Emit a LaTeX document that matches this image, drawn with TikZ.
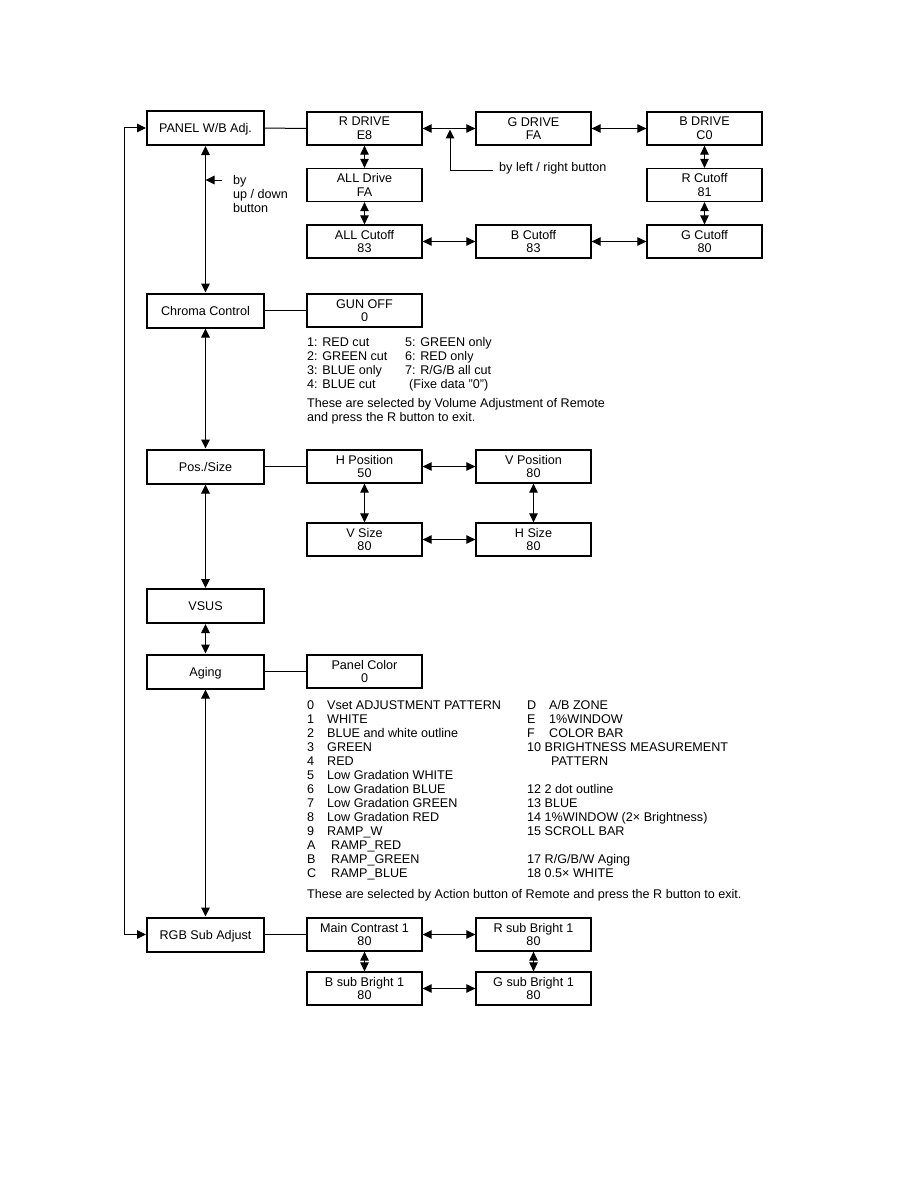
\documentclass[tikz,border=0pt]{standalone}
\usepackage{fontspec}
\setmainfont{Liberation Sans}
\usetikzlibrary{arrows.meta}
\begin{document}
\begin{tikzpicture}[x=1pt,y=-1pt,
  every node/.style={font=\fontsize{12.6}{13.6}\selectfont},
  mainbox/.style={draw, line width=2pt, minimum width=117pt, minimum height=34pt, inner sep=0pt, text height=9pt, text depth=0pt},
  subbox/.style={draw, line width=1.3pt, minimum width=115pt, minimum height=33pt, align=center, inner sep=0pt},
  link/.style={line width=1pt},
  tip/.style={-{Triangle[length=9pt,width=8.5pt]}},
  dbl/.style={line width=1pt, {Triangle[length=9pt,width=8.5pt]}-{Triangle[length=9pt,width=8.5pt]}},
  txt/.style={anchor=base west, inner sep=0pt}]
\useasboundingbox (0,0) rectangle (918,1188);

% left column
\node[mainbox] (panel)  at (205.5,128) {PANEL W/B Adj.};
\node[mainbox] (chroma) at (205.5,310.5) {Chroma Control};
\node[mainbox] (pos)    at (205.5,466.5) {Pos./Size};
\node[mainbox] (vsus)   at (205.5,606) {VSUS};
\node[mainbox] (aging)  at (205.5,671.5) {Aging};
\node[mainbox] (rgb)    at (205.5,934.5) {RGB Sub Adjust};

\draw[dbl] (panel) -- (chroma);
\draw[dbl] (chroma) -- (pos);
\draw[dbl] (pos) -- (vsus);
\draw[dbl] (vsus) -- (aging);
\draw[dbl] (aging) -- (rgb);
\draw[dbl] (panel.west) -- ++(-22,0) |- (rgb.west);

\coordinate (ud) at (222,180);
\coordinate (udt) at (205.5,180);
\draw[link,tip] (ud) -- (udt);
\node[txt] (by1) at (233,184.5) {by};
\node[txt] (by2) at (233,198.5) {up / down};
\node[txt] (by3) at (233,212.5) {button};

% PANEL W/B group
\node[subbox] (rdrive) at (364.5,128.5) {R DRIVE\\E8};
\node[subbox] (gdrive) at (533.5,128.5) {G DRIVE\\FA};
\node[subbox] (bdrive) at (704.5,128.5) {B DRIVE\\C0};
\node[subbox] (alldrive) at (364.5,185) {ALL Drive\\FA};
\node[subbox] (rcut) at (704.5,185) {R Cutoff\\81};
\node[subbox] (allcut) at (364.5,241.5) {ALL Cutoff\\83};
\node[subbox] (bcut) at (533.5,241.5) {B Cutoff\\83};
\node[subbox] (gcut) at (704.5,241.5) {G Cutoff\\80};

\draw[link] (panel) -- (rdrive);
\draw[dbl] (rdrive) -- (gdrive);
\draw[dbl] (gdrive) -- (bdrive);
\draw[dbl] (rdrive) -- (alldrive);
\draw[dbl] (alldrive) -- (allcut);
\draw[dbl] (bdrive) -- (rcut);
\draw[dbl] (rcut) -- (gcut);
\draw[dbl] (allcut) -- (bcut);
\draw[dbl] (bcut) -- (gcut);

\coordinate (lr1) at (493,170);
\coordinate (lr2) at (450,170);
\coordinate (lr3) at (450,129.5);
\draw[link,tip] (lr1) -- (lr2) -- (lr3);
\node[txt] (lrtext) at (499,171.5) {by left / right button};

% Chroma group
\node[subbox] (gun) at (364.5,310.5) {GUN OFF\\0};
\draw[link] (chroma) -- (gun);
\node[txt] (c1) at (307,346) {1: RED cut};
\node[txt] (c2) at (307,360) {2: GREEN cut};
\node[txt] (c3) at (307,374) {3: BLUE only};
\node[txt] (c4) at (307,388) {4: BLUE cut};
\node[txt] (c5) at (405,346) {5: GREEN only};
\node[txt] (c6) at (405,360) {6: RED only};
\node[txt] (c7) at (405,374) {7: R/G/B all cut};
\node[txt] (c8) at (409,388) {(Fixe data "0")};
\node[txt] (c9) at (307,407.5) {These are selected by Volume Adjustment of Remote};
\node[txt] (c10) at (307,421.5) {and press the R button to exit.};

% Pos./Size group
\node[subbox] (hpos) at (364.5,466.5) {H Position\\50};
\node[subbox] (vpos) at (533.5,466.5) {V Position\\80};
\node[subbox] (vsize) at (364.5,539.5) {V Size\\80};
\node[subbox] (hsize) at (533.5,539.5) {H Size\\80};
\draw[link] (pos) -- (hpos);
\draw[dbl] (hpos) -- (vpos);
\draw[dbl] (hpos) -- (vsize);
\draw[dbl] (vpos) -- (hsize);
\draw[dbl] (vsize) -- (hsize);

% Aging group
\node[subbox] (pcolor) at (364.5,671.5) {Panel Color\\0};
\draw[link] (aging) -- (pcolor);

\foreach \n/\t [count=\i from 0] in {0/Vset ADJUSTMENT PATTERN,1/WHITE,2/BLUE and white outline,3/GREEN,4/RED,5/Low Gradation WHITE,6/Low Gradation BLUE,7/Low Gradation GREEN,8/Low Gradation RED,9/RAMP\_W}{
  \node[txt] (an\i) at (307,709+14.08*\i) {\n};
  \node[txt] (at\i) at (327,709+14.08*\i) {\t};
}
\foreach \n/\t [count=\i from 10] in {A/RAMP\_RED,B/RAMP\_GREEN,C/RAMP\_BLUE}{
  \node[txt] (an\i) at (307,709+14.08*\i) {\n};
  \node[txt] (at\i) at (331,709+14.08*\i) {\t};
}
\node[txt] (bn0) at (527,709) {D};
\node[txt] (bt0) at (549,709) {A/B ZONE};
\node[txt] (bn1) at (527,723.08) {E};
\node[txt] (bt1) at (549,723.08) {1\%WINDOW};
\node[txt] (bn2) at (527,737.16) {F};
\node[txt] (bt2) at (549,737.16) {COLOR BAR};
\node[txt] (bt3) at (527,751.24) {10 BRIGHTNESS MEASUREMENT};
\node[txt] (bt4) at (551,765.32) {PATTERN};
\node[txt] (bt6) at (527,793.48) {12 2 dot outline};
\node[txt] (bt7) at (527,807.56) {13 BLUE};
\node[txt] (bt8) at (527,821.64) {14 1\%WINDOW (2× Brightness)};
\node[txt] (bt9) at (527,835.72) {15 SCROLL BAR};
\node[txt] (bt11) at (527,863.88) {17 R/G/B/W Aging};
\node[txt] (bt12) at (527,877.96) {18 0.5× WHITE};
\node[txt] (anote) at (307,898) {These are selected by Action button of Remote and press the R button to exit.};

% RGB group
\node[subbox] (mc) at (364.5,934.5) {Main Contrast 1\\80};
\node[subbox] (rsb) at (533.5,934.5) {R sub Bright 1\\80};
\node[subbox] (bsb) at (364.5,988.5) {B sub Bright 1\\80};
\node[subbox] (gsb) at (533.5,988.5) {G sub Bright 1\\80};
\draw[link] (rgb) -- (mc);
\draw[dbl] (mc) -- (rsb);
\draw[dbl] (mc) -- (bsb);
\draw[dbl] (rsb) -- (gsb);
\draw[dbl] (bsb) -- (gsb);
\end{tikzpicture}
\end{document}
